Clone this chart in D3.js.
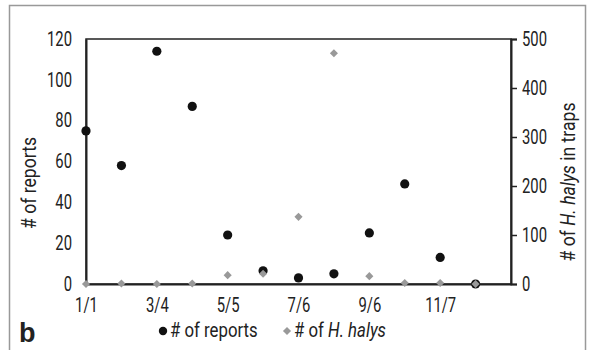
<!DOCTYPE html>
<html><head><meta charset="utf-8">
<script src="https://cdn.jsdelivr.net/npm/d3@7"></script>
<style>body{margin:0;background:#fff}svg{display:block}text{font-family:Roboto,"Liberation Sans",sans-serif;fill:#222}</style>
</head><body>
<svg id="c" width="592" height="350"></svg>
<script>
// Day offset (from 1/1) of each sample
const sampleDays = [0, 31, 62, 93, 124, 155, 186, 217, 248, 279, 310, 341];
const reports = [75, 58, 114, 87, 24, 6.5, 3, 5, 25, 49, 13, 0];
const halys = [0, 1, 0, 1, 18, 21, 137, 471, 16, 2, 2, 0];
const xTickDays = [0, 62, 124, 186, 248, 310];
const xTickLabels = ["1/1", "3/4", "5/5", "7/6", "9/6", "11/7"];
const leftTicks = [0, 20, 40, 60, 80, 100, 120];
const rightTicks = [0, 100, 200, 300, 400, 500];

const svg = d3.select("#c");
const L = 86, R = 511, T = 39, B = 284;
const x = d3.scaleLinear().domain([0, 372]).range([L, R]);
const yL = d3.scaleLinear().domain([0, 120]).range([B, T]);
const yR = d3.scaleLinear().domain([0, 500]).range([B, T]);

function squeeze(sel, sx) {
  sel.each(function () {
    const t = d3.select(this);
    const tx = +t.attr("x") || 0, ty = +t.attr("y") || 0;
    t.attr("x", 0).attr("y", 0).attr("transform", `translate(${tx},${ty}) scale(${sx},1)`);
  });
}

// outer frame
svg.append("rect").attr("x", 9.5).attr("y", 5.5).attr("width", 576).attr("height", 360)
  .attr("fill", "none").attr("stroke", "#999").attr("stroke-width", 1.5);

// plot border
svg.append("rect").attr("x", L).attr("y", T).attr("width", R - L).attr("height", B - T)
  .attr("fill", "none").attr("stroke", "#222").attr("stroke-width", 1.5);

// left axis
const gl = svg.append("g").attr("transform", `translate(${L},0)`)
  .call(d3.axisLeft(yL).tickValues(leftTicks).tickSize(0).tickPadding(14));
gl.select(".domain").attr("stroke", "#222").attr("stroke-width", 2);
gl.selectAll("text").attr("font-size", 19.5).style("font-family", "Roboto, sans-serif").attr("fill", "#222");
squeeze(gl.selectAll("text"), 0.76);

// right axis
const gr = svg.append("g").attr("transform", `translate(${R},0)`)
  .call(d3.axisRight(yR).tickValues(rightTicks).tickSize(6).tickPadding(5));
gr.select(".domain").attr("stroke", "#222").attr("stroke-width", 2);
gr.selectAll("line").attr("stroke", "#222").attr("stroke-width", 1.5);
gr.selectAll("text").attr("font-size", 19.5).style("font-family", "Roboto, sans-serif").attr("fill", "#222");
squeeze(gr.selectAll("text"), 0.76);

// bottom axis
const gb = svg.append("g").attr("transform", `translate(0,${B})`)
  .call(d3.axisBottom(x).tickValues(xTickDays).tickFormat((d, i) => xTickLabels[i]).tickSize(0).tickPadding(14));
gb.select(".domain").attr("stroke", "#222").attr("stroke-width", 2.2);
gb.selectAll("text").attr("font-size", 19.5).style("font-family", "Roboto, sans-serif").attr("fill", "#222");
squeeze(gb.selectAll("text"), 0.76);

// points
svg.append("g").selectAll("circle").data(reports).join("circle")
  .attr("cx", (d, i) => x(sampleDays[i])).attr("cy", d => yL(d)).attr("r", 4.6).attr("fill", "#111");
const diamond = d3.symbol().type(d3.symbolDiamond2).size(42);
svg.append("g").selectAll("path").data(halys).join("path")
  .attr("d", diamond)
  .attr("transform", (d, i) => `translate(${x(sampleDays[i])},${yR(d)})`)
  .attr("fill", "#999");

// axis titles
svg.append("text").attr("transform", `translate(36,183) rotate(-90) scale(0.88,1)`).attr("text-anchor", "middle")
  .attr("font-size", 20).text("# of reports");
const rt = svg.append("text").attr("transform", `translate(575,182) rotate(-90) scale(0.88,1)`).attr("text-anchor", "middle")
  .attr("font-size", 20);
rt.append("tspan").text("# of ");
rt.append("tspan").attr("font-style", "italic").text("H. halys");
rt.append("tspan").text(" in traps");

// panel label
svg.append("text").attr("x", 19).attr("y", 342).attr("font-size", 27).attr("font-weight", "bold")
  .style("font-family", "Liberation Sans, Arial, sans-serif").attr("fill", "#111").text("b");

// legend
svg.append("circle").attr("cx", 163).attr("cy", 331).attr("r", 4.2).attr("fill", "#111");
svg.append("text").attr("transform", "translate(170,337) scale(0.84,1)").attr("font-size", 20).text("# of reports");
svg.append("path").attr("d", diamond).attr("transform", "translate(287,331)").attr("fill", "#999");
const lt = svg.append("text").attr("transform", "translate(294,337) scale(0.84,1)").attr("font-size", 20);
lt.append("tspan").text("# of ");
lt.append("tspan").attr("font-style", "italic").text("H. halys");
</script>
</body></html>
